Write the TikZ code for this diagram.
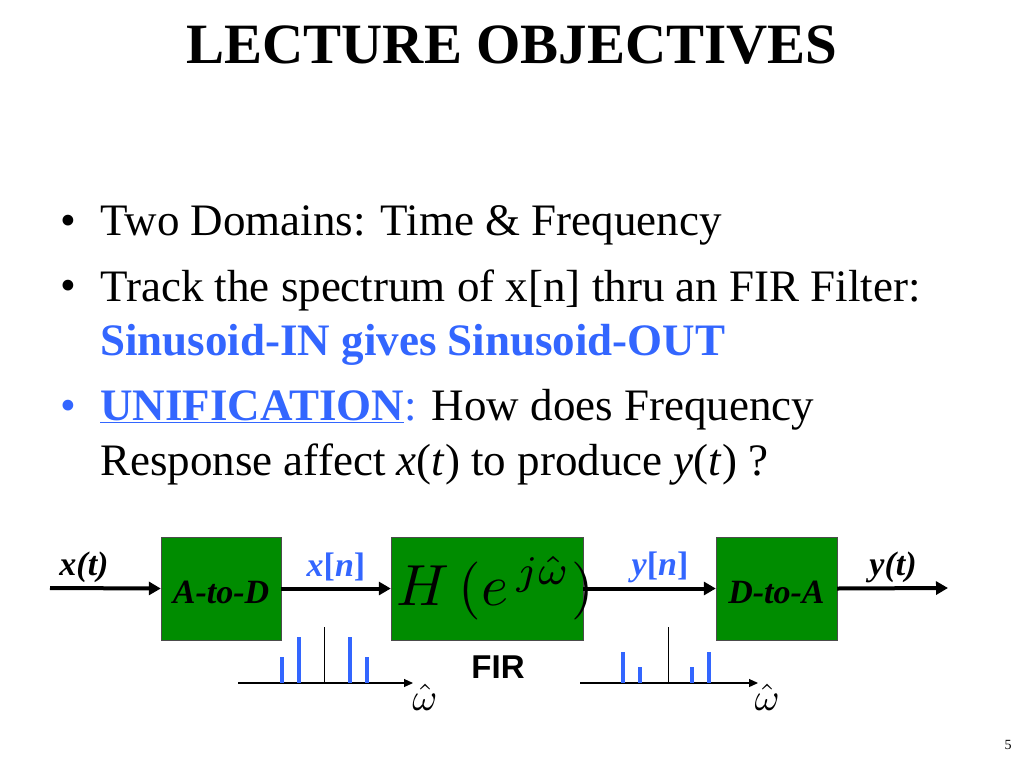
\documentclass[tikz,border=0pt]{standalone}
\usepackage{fontspec}
\setmainfont{Liberation Serif}
\newfontfamily\sansf{Liberation Sans}
\usetikzlibrary{arrows.meta}
\definecolor{boxgreen}{RGB}{0,140,0}
\definecolor{lblue}{RGB}{51,102,255}
\begin{document}
\begin{tikzpicture}[x=1pt,y=-1pt,
  blk/.style={draw=black!70,fill=boxgreen,minimum height=103pt,inner sep=0pt},
  sig/.style={line width=4pt,-{Triangle[length=12pt,width=13pt]}},
  ax/.style={line width=1.2pt,-{Triangle[length=9pt,width=8pt]}},
  spk/.style={draw=lblue,line width=3.5pt},
  txt/.style={font=\fontsize{45}{50}\selectfont,anchor=west,inner sep=0pt},
  lab/.style={font=\fontsize{34}{38}\selectfont\bfseries\itshape,inner sep=0pt}]
\useasboundingbox (0,0) rectangle (1024,768);
\node[font=\fontsize{57}{60}\selectfont\bfseries] (title) at (512,45) {LECTURE OBJECTIVES};
\node[txt] (b1) at (60,225) {\textbullet};
\node[txt] (t1) at (100,225) {Two Domains: Time \& Frequency};
\node[txt] (b2) at (60,290) {\textbullet};
\node[txt] (t2) at (100,290) {Track the spectrum of x[n] thru an FIR Filter:};
\node[txt,text=lblue,font=\fontsize{45}{50}\selectfont\bfseries] (t3) at (100,345) {Sinusoid-IN gives Sinusoid-OUT};
\node[txt,text=lblue] (b3) at (60,410) {\textbullet};
\node[txt] (t4) at (100,410) {\textcolor{lblue}{\textbf{\underline{UNIFICATION}}:} How does Frequency};
\node[txt] (t5) at (100,465) {Response affect \textit{x}(\textit{t}) to produce \textit{y}(\textit{t}) ?};

\node[blk,minimum width=120pt] (ad) at (221,588.5) {};
\node[lab] at (221,592) {A-to-D};
\node[blk,minimum width=192pt] (h) at (487,588.5) {};
\node[inner sep=0pt] (hl) at (495,588) {\scalebox{5.8}{$H\,(e^{\,j\hat\omega})$}};
\node[blk,minimum width=121pt] (da) at (776.5,588.5) {};
\node[lab] at (776.5,592) {D-to-A};
\coordinate (in) at (50,588);
\coordinate (out) at (948,588);
\draw[sig] (in) -- (ad.west);
\draw[sig] (ad.east) -- (h.west);
\draw[sig] (h.east) -- (da.west);
\draw[sig] (da.east) -- (out);
\node[lab] (xt) at (84,567) {x(t)};
\node[lab] (yt) at (893,567) {y(t)};
\node[font=\fontsize{34}{38}\selectfont\bfseries,text=lblue,inner sep=0pt] (xn) at (336,567) {\textit{x}[\textit{n}]};
\node[font=\fontsize{34}{38}\selectfont\bfseries,text=lblue,inner sep=0pt] (yn) at (660,567) {\textit{y}[\textit{n}]};

\coordinate (la0) at (238,683); \coordinate (la1) at (413,683);
\draw[ax] (la0) -- (la1);
\draw[line width=0.8pt] (324,627) -- (324,683);
\draw[spk] (282,657) -- (282,683); \draw[spk] (299,637) -- (299,683);
\draw[spk] (350,637) -- (350,683); \draw[spk] (367,657) -- (367,683);
\node[inner sep=0pt] (w1) at (425,697) {\scalebox{3.8}{$\hat\omega$}};
\coordinate (ra0) at (580,683); \coordinate (ra1) at (758,683);
\draw[ax] (ra0) -- (ra1);
\draw[line width=0.8pt] (668,627) -- (668,683);
\draw[spk] (623,652) -- (623,683); \draw[spk] (640,667) -- (640,683);
\draw[spk] (692,667) -- (692,683); \draw[spk] (709,652) -- (709,683);
\node[inner sep=0pt] (w2) at (767,697) {\scalebox{3.8}{$\hat\omega$}};
\node[font=\sansf\fontsize{33}{36}\selectfont\bfseries] (fir) at (498,667) {FIR};
\node[font=\fontsize{14}{16}\selectfont] (pg) at (1008,745) {5};
\end{tikzpicture}
\end{document}
